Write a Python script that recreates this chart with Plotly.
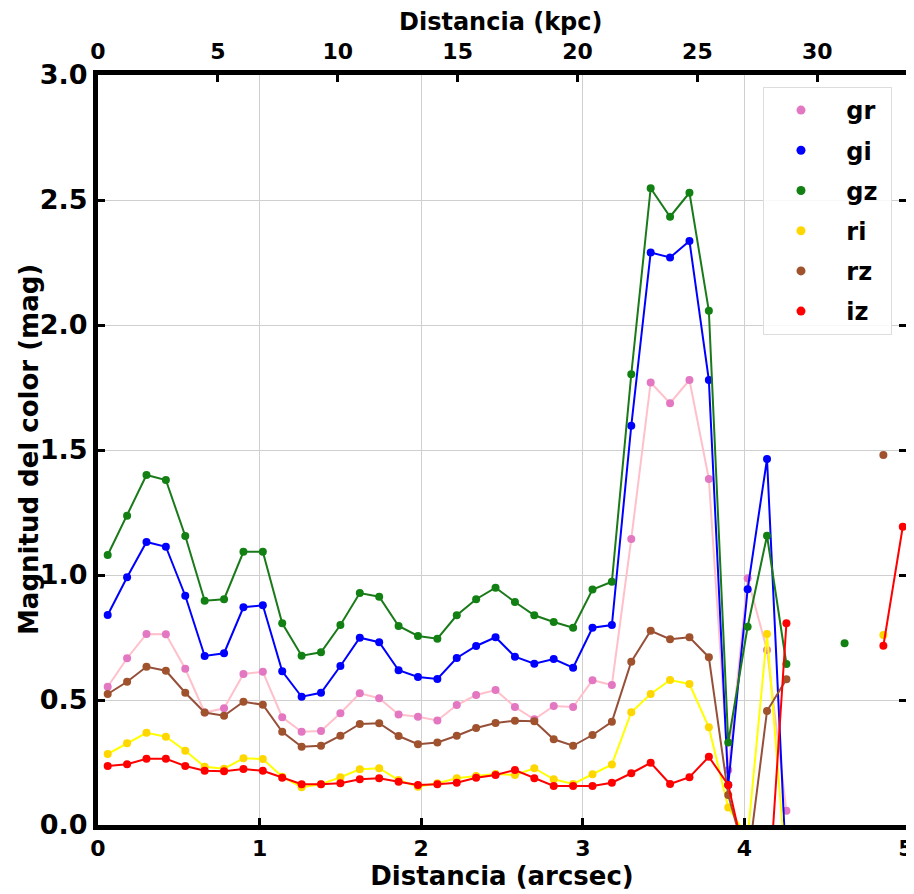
import plotly.graph_objects as go

# Distance (arcsec) of each profile point
dist_arcsec = [0.06, 0.18, 0.30, 0.42, 0.54, 0.66, 0.78, 0.90, 1.02, 1.14,
               1.26, 1.38, 1.50, 1.62, 1.74, 1.86, 1.98, 2.10, 2.22, 2.34,
               2.46, 2.58, 2.70, 2.82, 2.94, 3.06, 3.18, 3.30, 3.42, 3.54,
               3.66, 3.78, 3.90, 4.02, 4.14, 4.26, 4.38, 4.50, 4.62, 4.74,
               4.86, 4.98]

gr = [0.553, 0.667, 0.764, 0.763, 0.625, 0.45, 0.467, 0.604, 0.613, 0.431,
      0.373, 0.376, 0.447, 0.527, 0.507, 0.442, 0.433, 0.418, 0.48, 0.52,
      0.54, 0.472, 0.423, 0.476, 0.472, 0.579, 0.56, 1.144, 1.77, 1.687,
      1.78, 1.384, 0.22, 0.987, 0.70, 0.057, None, None, None, None,
      None, None]
gi = [0.84, 0.991, 1.132, 1.113, 0.917, 0.676, 0.687, 0.871, 0.879, 0.615,
      0.513, 0.529, 0.636, 0.749, 0.731, 0.619, 0.592, 0.584, 0.668, 0.716,
      0.751, 0.673, 0.645, 0.664, 0.629, 0.789, 0.80, 1.597, 2.29, 2.27,
      2.336, 1.78, 0.16, 0.943, 1.464, -0.19, None, None, None, None,
      None, None]
gz = [1.08, 1.237, 1.40, 1.38, 1.156, 0.897, 0.903, 1.093, 1.093, 0.807,
      0.677, 0.691, 0.80, 0.928, 0.913, 0.796, 0.756, 0.745, 0.839, 0.903,
      0.949, 0.892, 0.839, 0.812, 0.789, 0.942, 0.973, 1.803, 2.547, 2.433,
      2.529, 2.057, 0.33, 0.793, 1.157, 0.644, None, None, 0.727, None,
      None, None]
ri = [0.284, 0.327, 0.369, 0.353, 0.297, 0.233, 0.225, 0.267, 0.264, 0.193,
      0.151, 0.163, 0.191, 0.223, 0.227, 0.18, 0.153, 0.167, 0.187, 0.196,
      0.204, 0.20, 0.227, 0.183, 0.164, 0.203, 0.242, 0.451, 0.524, 0.58,
      0.564, 0.391, 0.07, -0.05, 0.764, -0.2, None, None, None, None,
      0.76, None]
rz = [0.524, 0.573, 0.633, 0.617, 0.529, 0.450, 0.437, 0.493, 0.481, 0.373,
      0.313, 0.317, 0.357, 0.404, 0.407, 0.356, 0.323, 0.33, 0.357, 0.388,
      0.408, 0.417, 0.415, 0.343, 0.317, 0.36, 0.413, 0.653, 0.777, 0.743,
      0.751, 0.671, 0.12, -0.16, 0.456, 0.583, None, None, None, None,
      1.48, None]
iz = [0.236, 0.243, 0.265, 0.265, 0.236, 0.217, 0.215, 0.224, 0.217, 0.189,
      0.163, 0.163, 0.167, 0.183, 0.187, 0.173, 0.16, 0.163, 0.169, 0.189,
      0.20, 0.22, 0.187, 0.156, 0.156, 0.156, 0.169, 0.207, 0.249, 0.164,
      0.191, 0.273, 0.16, -0.18, -0.38, 0.807, None, None, None, None,
      0.717, 1.193]

series_names = ["gr", "gi", "gz", "ri", "rz", "iz"]
series_values = [gr, gi, gz, ri, rz, iz]
line_colors = ["#ffc0cb", "#0000ff", "#1a7a1a", "#ffff00", "#96503a", "#ff0000"]
marker_colors = ["#e377c2", "#0000ff", "#128012", "#ffd700", "#a0522d", "#ff0000"]

x_ticks_arcsec = [0, 1, 2, 3, 4, 5]
y_ticks = [0.0, 0.5, 1.0, 1.5, 2.0, 2.5, 3.0]
kpc_ticks = [0, 5, 10, 15, 20, 25, 30]
kpc_max = 33.7

FONT = "DejaVu Sans"

fig = go.Figure()
for name, vals, lc, mc in zip(series_names, series_values, line_colors, marker_colors):
    fig.add_trace(go.Scatter(
        x=dist_arcsec, y=vals, mode="lines+markers", name=name,
        line=dict(color=lc, width=2),
        marker=dict(color=mc, size=8),
        showlegend=False, connectgaps=False, cliponaxis=True,
    ))
# legend entries (marker only)
for name, mc in zip(series_names, marker_colors):
    fig.add_trace(go.Scatter(
        x=[None], y=[None], mode="markers", name="\u00a0" + name + "\u00a0",
        marker=dict(color=mc, size=9), legendgroup=name, showlegend=True,
    ))
# invisible trace to carry the top kpc axis
fig.add_trace(go.Scatter(x=[0, kpc_max], y=[None, None], xaxis="x2", yaxis="y",
                         mode="markers", showlegend=False, hoverinfo="skip"))

xtick_font = dict(family=FONT, size=22, color="black", weight="bold")
ytick_font = dict(family=FONT, size=27, color="black", weight="bold")
title_font = dict(family=FONT, size=26, color="black", weight="bold")
top_title_font = dict(family=FONT, size=24, color="black", weight="bold")

# The page body adds an 8px offset; the figure is sized to fill the 914x894 window.
fig.update_layout(
    width=906, height=886,
    margin=dict(l=90, r=8, t=67, b=69),
    paper_bgcolor="white", plot_bgcolor="white",
    xaxis=dict(
        range=[0, 5], tickvals=x_ticks_arcsec, ticktext=[str(v) for v in x_ticks_arcsec],
        showgrid=True, gridcolor="#cfcfcf", gridwidth=1, zeroline=False,
        showline=True, linecolor="black", linewidth=5, mirror=True,
        ticks="inside", ticklen=7, tickwidth=3, tickcolor="black",
        tickfont=xtick_font, automargin=False,
        title=dict(text="Distancia (arcsec)", font=title_font, standoff=2),
    ),
    xaxis2=dict(
        range=[0, kpc_max], tickvals=kpc_ticks, ticktext=[str(v) for v in kpc_ticks],
        overlaying="x", side="top", anchor="y",
        showgrid=False, zeroline=False, showline=False,
        ticks="inside", ticklen=7, tickwidth=3, tickcolor="black",
        tickfont=xtick_font, automargin=False, ticklabelstandoff=11,
    ),
    yaxis=dict(
        range=[0, 3], tickvals=y_ticks, ticktext=[f"{v:.1f}" for v in y_ticks],
        showgrid=True, gridcolor="#cfcfcf", gridwidth=1, zeroline=False,
        showline=True, linecolor="black", linewidth=5, mirror="ticks",
        ticks="inside", ticklen=7, tickwidth=3, tickcolor="black",
        tickfont=ytick_font, automargin=False,
    ),
    annotations=[
        dict(text="Magnitud del color (mag)", textangle=-90, font=title_font,
             xref="paper", yref="paper", x=(21 - 90) / 808, y=0.5,
             xanchor="center", yanchor="middle", showarrow=False),
        dict(text="Distancia (kpc)", font=top_title_font,
             xref="paper", yref="paper", x=(501 - 98) / 808, y=1 + (74 - 21) / 750,
             xanchor="center", yanchor="middle", showarrow=False, borderpad=0),
    ],
    legend=dict(
        x=0.823, y=0.984, xanchor="left", yanchor="top",
        bgcolor="rgba(255,255,255,0.85)", bordercolor="#dddddd", borderwidth=1,
        font=dict(family=FONT, size=24, color="black", weight="bold"),
        tracegroupgap=6, itemwidth=64,
    ),
)

fig.write_html("out.html")
